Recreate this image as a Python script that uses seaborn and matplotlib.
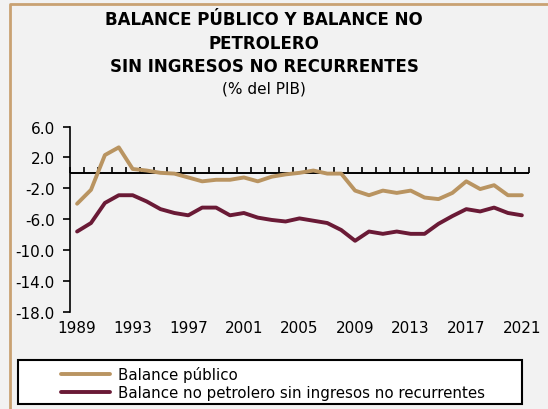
import numpy as np
import pandas as pd
import matplotlib
matplotlib.use("Agg")
import matplotlib.pyplot as plt
import seaborn as sns
from matplotlib.lines import Line2D
from matplotlib.patches import Rectangle

# Data (% del PIB)
years = list(range(1989, 2022))
balance_publico = [-4.0, -2.2, 2.3, 3.3, 0.5, 0.3, 0.0, -0.1, -0.6, -1.1, -0.9,
                   -0.9, -0.6, -1.1, -0.5, -0.2, 0.0, 0.3, -0.1, -0.1, -2.3,
                   -2.9, -2.3, -2.6, -2.3, -3.2, -3.4, -2.6, -1.1, -2.1, -1.6,
                   -2.9, -2.9]
balance_no_petrolero = [-7.6, -6.5, -3.9, -2.9, -2.9, -3.7, -4.7, -5.2, -5.5,
                        -4.5, -4.5, -5.5, -5.2, -5.8, -6.1, -6.3, -5.9, -6.2,
                        -6.5, -7.4, -8.8, -7.6, -7.9, -7.6, -7.9, -7.9, -6.6,
                        -5.6, -4.7, -5.0, -4.5, -5.2, -5.5]
series_names = ["Balance público",
                "Balance no petrolero sin ingresos no recurrentes"]
year_labels = [1989, 1993, 1997, 2001, 2005, 2009, 2013, 2017, 2021]
y_ticks = [6, 2, -2, -6, -10, -14, -18]

colors = ["#B99461", "#6A1A36"]
bg = "#F2F2F2"

df = pd.DataFrame({
    "year": years * 2,
    "value": balance_publico + balance_no_petrolero,
    "serie": [series_names[0]] * len(years) + [series_names[1]] * len(years),
})

sns.set_style("white")
plt.rcParams["font.family"] = ["DejaVu Sans"]
plt.rcParams["text.color"] = "black"
plt.rcParams["xtick.color"] = "black"
plt.rcParams["ytick.color"] = "black"

fig = plt.figure(figsize=(5.48, 4.10), dpi=100, facecolor=bg)
ax = fig.add_axes([0.128, 0.237, 0.837, 0.452])
ax.set_facecolor(bg)

sns.lineplot(data=df, x="year", y="value", hue="serie", palette=colors,
             linewidth=2.8, ax=ax, legend=False)

ax.set_xlim(1988.5, 2021.5)
ax.set_ylim(-18, 6)
ax.set_yticks(y_ticks)
ax.set_yticklabels([f"{v:.1f}" for v in y_ticks], fontsize=11)
ax.set_xticks(year_labels)
ax.set_xticklabels([str(y) for y in year_labels], fontsize=11)
ax.tick_params(axis="x", length=0, pad=6)
ax.tick_params(axis="y", left=True, length=5, width=1.2, direction="out", pad=6)
ax.set_xlabel("")
ax.set_ylabel("")
for side in ["top", "right", "bottom"]:
    ax.spines[side].set_visible(False)
ax.spines["left"].set_color("black")
ax.spines["left"].set_linewidth(1.2)

# category axis crossing at zero, with ticks between years
ax.axhline(0, color="black", linewidth=1.4, zorder=1)
zero_pos = (0 - (-18)) / (6 - (-18))
sec = ax.secondary_xaxis(zero_pos)
sec.set_xticks(np.arange(1988.5, 2022, 1))
sec.set_xticklabels([])
sec.xaxis.set_ticks_position("bottom")
sec.tick_params(bottom=True, direction="in", length=4, width=1.2, color="black")
for sp in sec.spines.values():
    sp.set_visible(False)

# titles
W, H = 548, 410
for txt, ypix in [("BALANCE PÚBLICO Y BALANCE NO", 20), ("PETROLERO", 44),
                  ("SIN INGRESOS NO RECURRENTES", 67)]:
    fig.text(264 / W, 1 - ypix / H, txt, ha="center", va="center",
             fontsize=12, fontweight="bold")
fig.text(264 / W, 1 - 89 / H, "(% del PIB)", ha="center", va="center",
         fontsize=11)

# tan frame on left and top
fig.add_artist(Line2D([9.5 / W, 9.5 / W, 1.01], [-0.01, 1 - 4.5 / H, 1 - 4.5 / H],
                      transform=fig.transFigure, color="#C9A273", linewidth=2,
                      solid_capstyle="butt"))

# legend box
fig.add_artist(Rectangle((18 / W, 1 - 405 / H), 504 / W, 44 / H,
                         transform=fig.transFigure, facecolor="white",
                         edgecolor="black", linewidth=1.5))
handles = [Line2D([], [], color=c, linewidth=2.8) for c in colors]
fig.legend(handles, series_names, loc="upper left",
           bbox_to_anchor=(50 / W, 1 - 357 / H), frameon=False, fontsize=10.8,
           handlelength=3.3, handletextpad=0.5, labelspacing=0.2,
           borderpad=0.2)

fig.savefig("out.png", dpi=100, facecolor=bg)
